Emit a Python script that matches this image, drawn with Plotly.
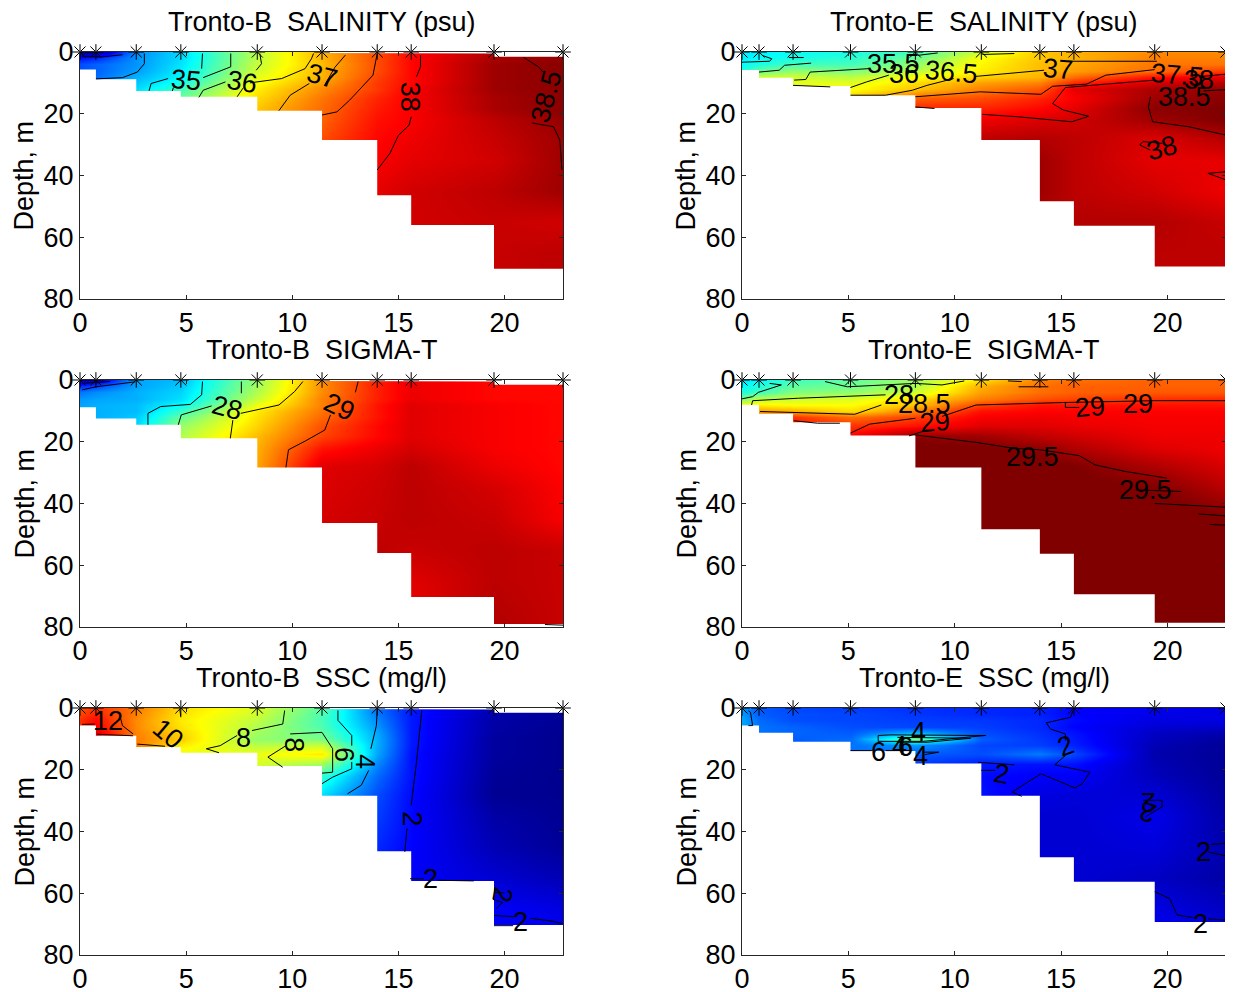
import plotly.graph_objects as go

# stations along each transect (km) and the depth levels of the grids (m)
STATIONS_B = [0, 0.75, 2.65, 4.75, 8.35, 11.4, 14, 15.6, 19.5, 22.75]
STATIONS_E = [0, 0.8, 2.4, 5.1, 8.15, 11.25, 14, 15.6, 19.4, 22.75]
DEPTHS = [0, 2, 4, 6, 8, 10, 12, 15, 18, 22, 28, 35, 45, 55, 65, 80]

# sea floor per station interval
BOTTOM_SAL_B = [5.7, 8.8, 12.6, 14.5, 19, 28.5, 46.4, 56, 70.2]
BOTTOM_SIG_B = [8.8, 12.5, 14.5, 18.9, 28.3, 46.3, 56, 70.3, 79]
BOTTOM_SSC_B = [5.7, 9, 12.6, 14.5, 18.8, 28.4, 46.4, 56, 70.3]
BOTTOM_SAL_E = [5.8, 8.3, 11, 14, 18.1, 28.5, 48.3, 56.3, 69.5]
BOTTOM_SIG_E = [8, 10.9, 13.7, 18, 28.3, 48.3, 56.3, 69.4, 78.6]
BOTTOM_SSC_E = [5.7, 8, 10.9, 13.9, 18, 28.4, 48.3, 56.3, 69.3]
# white strip under the surface on the Tronto-B sections
TOP_B = [0, 0, 0, 0, 0, 0.3, 0.5, 0.5, 1.5]
TOP_E = [0, 0, 0, 0, 0, 0, 0, 0, 0]

SAL_B = [
    [33.6, 33.7, 34.9, 35.3, 36.4, 37.1, 37.6, 37.95, 38.35, 38.55],
    [34.3, 34.4, 34.95, 35.3, 36.4, 37.1, 37.6, 37.95, 38.4, 38.5],
    [34.6, 34.7, 34.95, 35.35, 36.45, 37.05, 37.6, 37.95, 38.45, 38.55],
    [34.6, 34.7, 35.0, 35.4, 36.5, 37.1, 37.6, 37.95, 38.45, 38.55],
    [34.7, 34.75, 35.1, 35.45, 36.6, 37.1, 37.65, 37.95, 38.45, 38.55],
    [34.7, 34.8, 35.2, 35.6, 36.7, 37.2, 37.7, 37.95, 38.45, 38.55],
    [34.7, 34.8, 35.3, 35.8, 36.8, 37.3, 37.7, 38.0, 38.45, 38.55],
    [34.7, 34.8, 35.4, 36.0, 36.9, 37.4, 37.8, 38.0, 38.4, 38.55],
    [34.7, 34.8, 35.4, 36.0, 37.0, 37.45, 37.85, 38.0, 38.4, 38.55],
    [34.7, 34.8, 35.4, 36.0, 37.0, 37.5, 37.9, 38.0, 38.3, 38.5],
    [34.7, 34.8, 35.4, 36.0, 37.0, 37.6, 37.95, 38.05, 38.25, 38.45],
    [34.7, 34.8, 35.4, 36.0, 37.0, 37.6, 38.0, 38.1, 38.2, 38.45],
    [34.7, 34.8, 35.4, 36.0, 37.0, 37.6, 38.1, 38.2, 38.3, 38.45],
    [34.7, 34.8, 35.4, 36.0, 37.0, 37.6, 38.1, 38.2, 38.25, 38.2],
    [34.7, 34.8, 35.4, 36.0, 37.0, 37.6, 38.1, 38.2, 38.25, 38.3],
    [34.7, 34.8, 35.4, 36.0, 37.0, 37.6, 38.1, 38.2, 38.25, 38.3],
]
SIG_B = [
    [25.8, 25.9, 26.8, 26.9, 27.8, 28.7, 29.15, 29.35, 29.25, 29.25],
    [26.3, 26.4, 26.8, 26.95, 27.85, 28.7, 29.15, 29.35, 29.25, 29.25],
    [26.6, 26.7, 26.85, 27.0, 27.9, 28.7, 29.15, 29.35, 29.25, 29.25],
    [26.75, 26.8, 26.85, 27.05, 28.0, 28.75, 29.15, 29.35, 29.25, 29.25],
    [26.8, 26.85, 26.9, 27.2, 28.15, 28.75, 29.2, 29.4, 29.3, 29.25],
    [26.8, 26.85, 26.9, 27.4, 28.3, 28.8, 29.2, 29.4, 29.3, 29.25],
    [26.8, 26.85, 26.95, 27.6, 28.35, 28.85, 29.2, 29.4, 29.3, 29.25],
    [26.8, 26.85, 27.0, 27.8, 28.4, 28.95, 29.25, 29.4, 29.3, 29.25],
    [26.8, 26.85, 27.0, 27.9, 28.5, 29.0, 29.25, 29.4, 29.3, 29.25],
    [26.8, 26.85, 27.0, 27.9, 28.55, 29.2, 29.35, 29.45, 29.3, 29.25],
    [26.8, 26.85, 27.0, 27.9, 28.6, 29.4, 29.45, 29.55, 29.35, 29.25],
    [26.8, 26.85, 27.0, 27.9, 28.6, 29.42, 29.48, 29.55, 29.45, 29.28],
    [26.8, 26.85, 27.0, 27.9, 28.6, 29.45, 29.5, 29.55, 29.5, 29.3],
    [26.8, 26.85, 27.0, 27.9, 28.6, 29.45, 29.55, 29.5, 29.55, 29.5],
    [26.8, 26.85, 27.0, 27.9, 28.6, 29.45, 29.55, 29.4, 29.55, 29.5],
    [26.8, 26.85, 27.0, 27.9, 28.6, 29.45, 29.55, 29.35, 29.6, 29.5],
]
SSC_B = [
    [11.0, 11.5, 10.5, 9.2, 8.3, 6.5, 3.5, 2.3, 1.0, 0.7],
    [11.2, 11.7, 10.4, 9.1, 8.1, 6.4, 3.6, 2.3, 0.9, 0.65],
    [11.5, 12.0, 10.3, 9.0, 7.9, 6.3, 3.8, 2.3, 0.8, 0.6],
    [11.5, 12.2, 10.3, 9.1, 7.7, 6.4, 4.0, 2.3, 0.8, 0.55],
    [12.0, 12.5, 10.4, 9.3, 7.5, 6.7, 4.2, 2.3, 0.75, 0.5],
    [12.0, 12.5, 10.5, 9.4, 7.3, 7.0, 4.3, 2.3, 0.7, 0.5],
    [12.0, 12.5, 10.5, 9.0, 7.8, 8.0, 4.3, 2.3, 0.7, 0.5],
    [12.0, 12.5, 10.5, 8.4, 8.5, 9.0, 4.2, 2.2, 0.7, 0.5],
    [12.0, 12.5, 10.5, 8.4, 8.2, 7.5, 3.8, 2.2, 0.65, 0.5],
    [12.0, 12.5, 10.5, 8.4, 8.0, 6.0, 3.4, 2.2, 0.6, 0.5],
    [12.0, 12.5, 10.5, 8.4, 8.0, 5.0, 3.0, 2.1, 0.55, 0.5],
    [12.0, 12.5, 10.5, 8.4, 8.0, 5.0, 2.8, 2.05, 0.8, 0.55],
    [12.0, 12.5, 10.5, 8.4, 8.0, 5.0, 2.5, 2.0, 1.0, 0.6],
    [12.0, 12.5, 10.5, 8.4, 8.0, 5.0, 2.2, 1.9, 1.4, 1.0],
    [12.0, 12.5, 10.5, 8.4, 8.0, 5.0, 2.2, 1.9, 1.9, 1.6],
    [12.0, 12.5, 10.5, 8.4, 8.0, 5.0, 2.2, 1.9, 1.9, 1.9],
]
SAL_E = [
    [35.4, 35.4, 35.5, 35.6, 35.8, 36.5, 37.0, 37.1, 37.3, 37.3],
    [35.4, 35.5, 35.6, 35.7, 36.0, 36.7, 37.0, 37.1, 37.35, 37.35],
    [35.5, 35.6, 35.8, 35.8, 36.2, 36.75, 37.05, 37.15, 37.4, 37.4],
    [35.6, 36.0, 36.2, 36.1, 36.4, 36.8, 37.05, 37.2, 37.45, 37.7],
    [36.2, 36.5, 36.5, 36.4, 36.7, 36.95, 37.1, 37.45, 37.9, 38.1],
    [36.2, 36.5, 36.6, 36.6, 36.9, 37.2, 37.35, 37.8, 38.2, 38.35],
    [36.2, 36.5, 36.7, 36.7, 37.0, 37.35, 37.55, 38.1, 38.4, 38.5],
    [36.2, 36.5, 36.7, 37.0, 37.5, 37.6, 37.8, 38.0, 38.45, 38.55],
    [36.2, 36.5, 36.7, 37.0, 37.8, 37.8, 37.95, 38.1, 38.55, 38.6],
    [36.2, 36.5, 36.7, 37.0, 38.0, 38.05, 38.15, 38.2, 38.45, 38.6],
    [36.2, 36.5, 36.7, 37.0, 38.0, 38.3, 38.35, 38.3, 38.15, 38.35],
    [36.2, 36.5, 36.7, 37.0, 38.0, 38.3, 38.45, 38.3, 38.1, 38.1],
    [36.2, 36.5, 36.7, 37.0, 38.0, 38.3, 38.45, 38.3, 38.2, 38.05],
    [36.2, 36.5, 36.7, 37.0, 38.0, 38.3, 38.35, 38.35, 38.35, 38.25],
    [36.2, 36.5, 36.7, 37.0, 38.0, 38.3, 38.3, 38.3, 38.3, 38.3],
    [36.2, 36.5, 36.7, 37.0, 38.0, 38.3, 38.3, 38.3, 38.3, 38.3],
]
SIG_E = [
    [27.4, 27.5, 27.7, 27.8, 28.0, 28.4, 28.7, 28.75, 28.8, 28.8],
    [27.5, 27.6, 27.8, 27.85, 28.05, 28.55, 28.75, 28.8, 28.8, 28.8],
    [27.6, 27.7, 27.9, 27.95, 28.15, 28.6, 28.75, 28.8, 28.82, 28.82],
    [27.9, 28.1, 28.15, 28.2, 28.4, 28.7, 28.85, 28.9, 28.95, 28.98],
    [28.3, 28.35, 28.3, 28.3, 28.5, 28.9, 29.05, 29.05, 29.05, 29.05],
    [28.6, 28.6, 28.55, 28.4, 28.7, 29.05, 29.1, 29.1, 29.1, 29.1],
    [28.9, 28.9, 28.95, 28.75, 28.9, 29.12, 29.15, 29.13, 29.12, 29.12],
    [29.0, 29.0, 29.05, 28.95, 29.05, 29.2, 29.2, 29.17, 29.13, 29.13],
    [29.0, 29.0, 29.1, 29.1, 29.45, 29.4, 29.3, 29.25, 29.15, 29.15],
    [29.0, 29.0, 29.1, 29.1, 29.55, 29.52, 29.45, 29.35, 29.2, 29.15],
    [29.0, 29.0, 29.1, 29.1, 29.6, 29.6, 29.55, 29.5, 29.35, 29.22],
    [29.0, 29.0, 29.1, 29.1, 29.6, 29.6, 29.6, 29.55, 29.5, 29.32],
    [29.0, 29.0, 29.1, 29.1, 29.6, 29.6, 29.6, 29.6, 29.6, 29.52],
    [29.0, 29.0, 29.1, 29.1, 29.6, 29.6, 29.6, 29.6, 29.6, 29.6],
    [29.0, 29.0, 29.1, 29.1, 29.6, 29.6, 29.6, 29.6, 29.6, 29.6],
    [29.0, 29.0, 29.1, 29.1, 29.6, 29.6, 29.6, 29.6, 29.6, 29.6],
]
SSC_E = [
    [4.0, 3.2, 2.9, 2.8, 2.6, 2.5, 2.4, 2.0, 1.8, 1.6],
    [4.0, 3.2, 3.0, 2.9, 2.7, 2.5, 2.4, 2.0, 1.7, 1.6],
    [4.2, 3.4, 3.0, 2.9, 2.8, 2.7, 2.5, 2.1, 1.6, 1.6],
    [4.2, 3.5, 3.3, 3.0, 2.9, 2.8, 2.5, 2.0, 1.4, 1.3],
    [4.2, 3.5, 3.3, 3.2, 4.5, 3.0, 2.6, 2.2, 1.2, 0.9],
    [4.2, 3.5, 3.2, 3.4, 7.0, 3.2, 2.7, 2.3, 1.1, 0.7],
    [4.2, 3.5, 3.2, 3.5, 4.0, 2.9, 2.8, 2.4, 1.0, 0.6],
    [4.2, 3.5, 3.2, 3.5, 3.2, 3.0, 3.6, 2.9, 0.9, 0.6],
    [4.2, 3.5, 3.2, 3.0, 2.8, 2.3, 2.2, 2.2, 1.0, 0.6],
    [4.2, 3.5, 3.2, 3.0, 2.4, 2.1, 1.9, 1.9, 1.1, 0.6],
    [4.2, 3.5, 3.2, 3.0, 2.4, 2.2, 1.6, 1.5, 1.4, 0.7],
    [4.2, 3.5, 3.2, 3.0, 2.4, 2.2, 1.4, 1.4, 1.7, 0.8],
    [4.2, 3.5, 3.2, 3.0, 2.4, 2.2, 1.4, 1.4, 1.5, 0.9],
    [4.2, 3.5, 3.2, 3.0, 2.4, 2.2, 1.4, 1.4, 1.2, 0.8],
    [4.2, 3.5, 3.2, 3.0, 2.4, 2.2, 1.4, 1.4, 1.6, 1.2],
    [4.2, 3.5, 3.2, 3.0, 2.4, 2.2, 1.4, 1.4, 2.0, 1.8],
]

# contour lines, (km, m) pairs, None breaks a line
LINES_SAL_B = [
    [(0.1, 1.4), (1, 1.6), (2, 0.9)],
    [(3.03, 0.5), (3.03, 3.8), (2.7, 6.5), (2, 8.3), (0.75, 8.7)],
    [(3.25, 12.6), (3.35, 10.2), (4.15, 8.6), None, (5.8, 8.3), (6.5, 6.5), (7.1, 4.8), (7.1, 0.5)],
    [(5.77, 0.5), (5.73, 5.4)],
    [(4.35, 12.6), (4.4, 11.5)],
    [(5.6, 14.7), (5.8, 12.4), (6.85, 9.7), None, (8, 10), (9.5, 8.6), (10.6, 5.4), (10.9, 2.2), (11, 0.5)],
    [(7.4, 14.5), (7.7, 11.5)],
    [(8.3, 5.9), (8.55, 3.8), (8.47, 0.5)],
    [(9.37, 19), (9.9, 14), (10.8, 10.2), None, (11.5, 11), (12, 5), (12.5, 1)],
    [(11.4, 20.4), (12.1, 19.4), (12.7, 15.6), (13.8, 7.5), (14, 0.5)],
    [(16.04, 1), (16.04, 4.8), (15.85, 8), None, (15.6, 21), (15.5, 23.7), (15, 27), (14.6, 32.8), (14, 38.2)],
    [(20.9, 1.8), (21.6, 4.8), (21.8, 6.5), None, (21.3, 23), (22.3, 24.2), (22.6, 28.5), (22.7, 38.2)],
]
LINES_SIG_B = [
    [(0.1, 3.2), (0.75, 2.2), (2.6, 0.6)],
    [(0.2, 1), (1.4, 0.5)],
    [(5.77, 0.5), (5.73, 4.8), (5.2, 7.9), (3.8, 8.6), (3.2, 10.8), (3.2, 14.5)],
    [(7.6, 0.5), (7.6, 4.3)],
    [(4.63, 14.5), (4.77, 11.3), (6.2, 8.4)],
    [(7.08, 18.9), (7.2, 13)],
    [(7.57, 10.8), (9.37, 8.1), (10.1, 3.8), (10.5, 0.5)],
    [(13.1, 0.5), (12.97, 4)],
    [(11.8, 11.3), (11.53, 16.2), (10.63, 19.7), (9.82, 22.6), (9.7, 28.3)],
    [(21.9, 79.2), (22.75, 79.4)],
]
LINES_SSC_B = [
    [(0.1, 5.3), (0.7, 5.2)],
    [(0.8, 8.5), (2.5, 9)],
    [(2.7, 11.7), (4, 12.4)],
    [(1.9, 3), (2, 5.7), (2.5, 8.4)],
    [(4.7, 0.3), (4.75, 3)],
    [(9.64, 0.8), (9.55, 5.2), (8.1, 7.3), None, (7.4, 8.9), (6.6, 12.2), (5.95, 13.2), (6.55, 14.5)],
    [(9.9, 8.4), (10.6, 8.1), (11.4, 7.9), (11.9, 13.2), (11.9, 20.8), (11.4, 21.1)],
    [(9.7, 12.2), (8.85, 15.9), (9.55, 19.2)],
    [(12.15, 0.8), (12.15, 4), (12.8, 8.9), (12.8, 12.2), None, (12.8, 17.5), (12.8, 19.7), (11.9, 22.4), (11.4, 24.5)],
    [(14, 0.3), (13.96, 5.7), (13.7, 13.2), None, (13.6, 20.2), (13.25, 25), (12.6, 27.8)],
    [(16.1, 0.8), (15.85, 17.5), (15.6, 31.5), None, (15.4, 39), (15.3, 46.6)],
    [(15.55, 55.3), (16.2, 55.3), None, (16.85, 55.8), (18.55, 56)],
    [(19.5, 59.7), (20, 59.9)],
    [(19.45, 62), (19.9, 63), (19.6, 65)],
    [(19.5, 67.2), (20.45, 67.6), None, (21.2, 68.1), (22.2, 69), (22.7, 69.8)],
    [(19.5, 70.5), (20.4, 70.5)],
]
LINES_SAL_E = [
    [(0, 3.3), (1.3, 3), (1.4, 2.2), (0.95, 1.1)],
    [(0.8, 6.5), (1.75, 5.9), (2, 4.3), (3.25, 3.6)],
    [(2.2, 1.8), (2.9, 1.8)],
    [(2.45, 9.1), (3, 8.9), (3.2, 6.5), (5.95, 5.4)],
    [(2.4, 10.8), (4.15, 11.3)],
    [(5.1, 11.5), (5.85, 9.7), (6.9, 7.5)],
    [(8.25, 1.1), (9.2, 0.3)],
    [(5.1, 14), (6.75, 14), (8, 12.4), (8.7, 10.8), (9.95, 8.6), None, (11, 7.9), (14.2, 5.9)],
    [(15.3, 3), (19.5, 3)],
    [(11.3, 0.8), (12.8, 0.5)],
    [(8.15, 14.5), (11.2, 12.9), (14.05, 13.7), (14.6, 11.1), (16.2, 10.4), (17.1, 7.5), (19.4, 5.7)],
    [(21.5, 8), (22.7, 7.2)],
    [(8.15, 17.8), (9.05, 18.3)],
    [(11.3, 20.2), (13, 21), (15.5, 22.6), (16.3, 20.8), (15.1, 18.8), (14.6, 16.7), (15.2, 11.5), (16.45, 10.8), (19.4, 9.1)],
    [(19.2, 14.5), (19.1, 17.8), (19.3, 22.6), (21, 24.2), (22.74, 26.9)],
    [(21.7, 12.6), (22.74, 12.2)],
    [(19.75, 29.6), (18.85, 29), (18.7, 30.1), (19.2, 31.8)],
    [(22.74, 38.8), (21.9, 39.3), (22.74, 41.4)],
]
LINES_SIG_E = [
    [(0, 6.1), (0.5, 5.4), (0.77, 4), (1.57, 2.2), (1.85, 1.6), (1.3, 1.1)],
    [(0.45, 8.1), (0.5, 6.7), (2.65, 5.9), (6.75, 4.8)],
    [(3.9, 0.5), (4.95, 2.2), (8.15, 1.1), (9.4, 1.6), (10.45, 0.3)],
    [(0.85, 10.2), (3.2, 10.8), (5.3, 11.1), (6.55, 8.1)],
    [(2.45, 13.2), (3.55, 14), (4.6, 14)],
    [(5.1, 17.2), (6, 14.3), (8.15, 12.4)],
    [(7.85, 18.1), (8.7, 16.2)],
    [(9.4, 11.8), (11, 8.1), (15.1, 7.3), (19.4, 6.7), (22.74, 6.7)],
    [(15.2, 7.5), (15.2, 8.9), (15.85, 8.9)],
    [(12.5, 0.3), (13.15, 0.5)],
    [(13, 2.2), (14.4, 2.2)],
    [(8.15, 17.8), (11, 20.2), (12.75, 22.1), (14, 22.6), (15.85, 24.5), (16.6, 27.5), (18, 29.6), (19.98, 31.8)],
    [(18.5, 35.6), (20.65, 36.1)],
    [(19.4, 40), (21.5, 40.9), (22.74, 41.2)],
    [(21.45, 43.4), (22.74, 44)],
    [(22, 46.8), (22.74, 47)],
]
LINES_SSC_E = [
    [(0.3, 0.9), (0.4, 1.4), (0.5, 5.7), (0.3, 5.7)],
    [(6.4, 8.9), (7, 8.7), (11.45, 8.9), (8.5, 10.8), (6.4, 10.8), (6.4, 8.9)],
    [(7.3, 9.5), (10.75, 9.8), (8.7, 11.1), (7.3, 11.1)],
    [(5.1, 13.8), (6.1, 13.8)],
    [(6.75, 13.8), (8, 13.8)],
    [(8.5, 14.3), (9.25, 14.3), (8.6, 15.1)],
    [(15.55, 0.8), (15.45, 3), (14.3, 4.8), (14.5, 6.8), (15.2, 8.4), (15.2, 10.5), None, (15.2, 15.4), (14.7, 18.4),
     (16.35, 20.8), (16, 24.5), (15.65, 25.9), (14.05, 21.3), (12.7, 27.2), (13.15, 28.6)],
    [(11.1, 17.6), (12.8, 18.4)],
    [(11.25, 20.2), (11.9, 20.2)],
    [(18.85, 29.9), (19.75, 29.9), (19.75, 32), (18.95, 35.3)],
    [(22.05, 44.2), (22.74, 43.8)],
    [(21.9, 46.6), (22.74, 47.9)],
    [(19.4, 59.5), (20.1, 61.7), (20.45, 67), (21.2, 67.9), None, (21.9, 68.3), (22.74, 68.7)],
]

# contour labels: text, km, m, angle
LABELS_SAL_B = [("35", 5, 9, 5), ("36", 7.65, 9.7, 10), ("37", 11.4, 7.9, 15), ("38", 15.55, 14.5, 90), ("38.5", 21.95, 14.5, -75)]
LABELS_SIG_B = [("28", 6.94, 9.2, 15), ("29", 12.2, 8.9, 25)]
LABELS_SSC_B = [("12", 1.3, 4.1, 0), ("10", 4.15, 8.4, 40), ("8", 7.7, 9.8, 0), ("8", 10.1, 11.9, 90), ("6", 12.4, 15, 90),
                ("4", 13.4, 17.3, 90), ("2", 15.65, 35.8, 90), ("2", 16.5, 55.4, 0), ("2", 19.9, 60.5, 100), ("2", 20.75, 69.4, 0)]
LABELS_SAL_E = [("35.5", 7.1, 4, 0), ("36", 7.6, 7, 0), ("36.5", 9.85, 6.5, 5), ("37", 14.85, 5.4, 5), ("37.5", 20.45, 7.5, 5),
                ("38", 21.5, 9.1, 0), ("38.5", 20.8, 14.5, 0), ("38", 19.75, 31.2, -15)]
LABELS_SIG_E = [("28", 7.4, 4.8, 0), ("28.5", 8.6, 7.9, 0), ("29", 9.05, 13.7, -5), ("29", 16.35, 8.9, -5), ("29", 18.6, 7.8, 0),
                ("29.5", 13.65, 24.8, 0), ("29.5", 18.95, 35.6, 0)]
LABELS_SSC_E = [("4", 8.3, 7.9, 0), ("6", 6.4, 14.1, 0), ("4", 7.4, 12.2, 0), ("6", 7.7, 12.6, 0), ("4", 8.4, 15.4, 0), ("2", 12.2, 21.3, 10),
                ("2", 15.2, 12.2, -20), ("2", 19.1, 30.5, 180), ("2", 19.1, 33.7, 200), ("2", 21.7, 46.6, 0), ("2", 21.55, 69.8, 0)]

TITLES = ["Tronto-B  SALINITY (psu)", "Tronto-E  SALINITY (psu)", "Tronto-B  SIGMA-T", "Tronto-E  SIGMA-T",
          "Tronto-B  SSC (mg/l)", "Tronto-E  SSC (mg/l)"]

# matlab jet
JET = [
    [0, "rgb(0,0,128)"], [0.125, "rgb(0,0,255)"], [0.375, "rgb(0,255,255)"],
    [0.625, "rgb(255,255,0)"], [0.875, "rgb(255,0,0)"], [1, "rgb(128,0,0)"],
]

FONT = "Liberation Sans"
FONT_SIZE = 27
# the page body has an 8 px margin, so the figure is 8 px smaller and pixel spots are shifted
PAGE = 8
W, H = 1233 - PAGE, 992 - PAGE
LEFTS = [(80 - PAGE, 563 - PAGE), (742 - PAGE, 1226 - PAGE)]
TOPS = [(52 - PAGE, 299 - PAGE), (380 - PAGE, 627 - PAGE), (708 - PAGE, 955 - PAGE)]

panels = [
    (STATIONS_B, SAL_B, 33.6, 38.6, BOTTOM_SAL_B, TOP_B, LINES_SAL_B, LABELS_SAL_B),
    (STATIONS_E, SAL_E, 33.6, 38.6, BOTTOM_SAL_E, TOP_E, LINES_SAL_E, LABELS_SAL_E),
    (STATIONS_B, SIG_B, 25.6, 29.8, BOTTOM_SIG_B, TOP_B, LINES_SIG_B, LABELS_SIG_B),
    (STATIONS_E, SIG_E, 26.3, 29.5, BOTTOM_SIG_E, TOP_E, LINES_SIG_E, LABELS_SIG_E),
    (STATIONS_B, SSC_B, 0.3, 13.8, BOTTOM_SSC_B, TOP_B, LINES_SSC_B, LABELS_SSC_B),
    (STATIONS_E, SSC_E, 0.3, 13.8, BOTTOM_SSC_E, TOP_E, LINES_SSC_E, LABELS_SSC_E),
]


def step_mask(stations, levels, closing):
    # white polygon that hides the grid outside the water column
    xs, ys = [], []
    for i, level in enumerate(levels):
        xs += [stations[i], stations[i + 1]]
        ys += [level, level]
    return xs + [stations[-1], stations[0], stations[0]], ys + [closing, closing, levels[0]]


fig = go.Figure()
annotations = []

for n, (stations, grid, zmin, zmax, bottom, top, lines, labels) in enumerate(panels):
    name = "" if n == 0 else str(n + 1)
    xa, ya = "x" + name, "y" + name
    fig.add_trace(go.Heatmap(x=stations, y=DEPTHS, z=grid, zmin=zmin, zmax=zmax, colorscale=JET,
                             zsmooth="best", showscale=False, xaxis=xa, yaxis=ya, hoverinfo="skip"))

    for levels, closing in [(bottom, 90), (top, -5)]:
        mx, my = step_mask(stations, levels, closing)
        fig.add_trace(go.Scatter(x=mx, y=my, mode="lines", fill="toself", fillcolor="white",
                                 line=dict(width=0), xaxis=xa, yaxis=ya, showlegend=False, hoverinfo="skip"))

    for line in lines:
        lx = [p[0] if p else None for p in line]
        ly = [p[1] if p else None for p in line]
        fig.add_trace(go.Scatter(x=lx, y=ly, mode="lines", line=dict(color="black", width=1),
                                 xaxis=xa, yaxis=ya, showlegend=False, hoverinfo="skip"))

    fig.add_trace(go.Scatter(x=stations, y=[0] * len(stations), mode="markers", cliponaxis=False,
                             marker=dict(symbol="asterisk-open", size=13, color="black", line=dict(width=1, color="black")),
                             xaxis=xa, yaxis=ya, showlegend=False, hoverinfo="skip"))

    for text, lx, ly, angle in labels:
        annotations.append(dict(text=text, x=lx, y=ly, xref=xa, yref=ya, showarrow=False, textangle=angle,
                                font=dict(family=FONT, size=FONT_SIZE, color="black")))

    px0, px1 = LEFTS[n % 2]
    py0, py1 = TOPS[n // 2]
    annotations.append(dict(text=TITLES[n], x=(px0 + px1) / 2 / W, y=1 - (py0 - 30) / H, xref="paper", yref="paper",
                            xanchor="center", yanchor="middle", showarrow=False,
                            font=dict(family=FONT, size=FONT_SIZE, color="black")))
    annotations.append(dict(text="Depth, m", x=(px0 - 56) / W, y=1 - (py0 + py1) / 2 / H, xref="paper", yref="paper",
                            xanchor="center", yanchor="middle", textangle=-90, showarrow=False,
                            font=dict(family=FONT, size=FONT_SIZE, color="black")))
    axis_style = dict(showgrid=False, zeroline=False, showline=True, linecolor="#262626", linewidth=1, mirror="ticks",
                      ticks="inside", ticklen=4, tickcolor="#262626", automargin=False,
                      tickfont=dict(family=FONT, size=FONT_SIZE, color="black"))
    fig.update_layout({
        "xaxis" + name: dict(domain=[px0 / W, px1 / W], range=[0, 22.75], tickvals=[0, 5, 10, 15, 20],
                             anchor=ya, **axis_style),
        "yaxis" + name: dict(domain=[1 - py1 / H, 1 - py0 / H], range=[80, 0], tickvals=[0, 20, 40, 60, 80], anchor=xa,
                             **axis_style),
    })

fig.update_layout(width=W, height=H, margin=dict(l=0, r=0, t=0, b=0, autoexpand=False), paper_bgcolor="white",
                  plot_bgcolor="white", annotations=annotations, showlegend=False)

fig.write_html("out.html")
